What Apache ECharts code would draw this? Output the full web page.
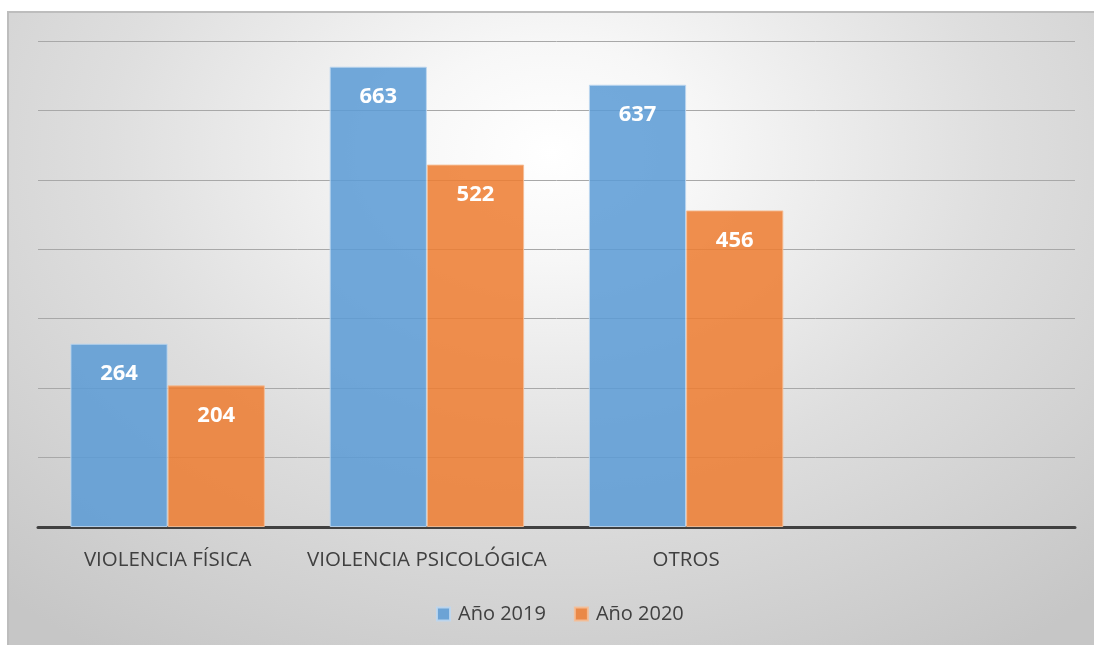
<!DOCTYPE html>
<html>
<head>
<meta charset="utf-8">
<script src="https://cdn.jsdelivr.net/npm/echarts@6/dist/echarts.min.js"></script>
<style>
  html, body { margin: 0; padding: 0; background: #fff; }
  #chart {
    position: absolute;
    left: 7px;
    top: 11px;
    width: 1087px;
    height: 634px;
    box-sizing: border-box;
    border-left: 2px solid #bdbdbd;
    border-top: 2px solid #bdbdbd;
    background: radial-gradient(ellipse 75% 95% at 50% 22%, #ffffff 0%, #f7f7f7 18%, #dedede 55%, #c6c6c6 100%);
  }
</style>
</head>
<body>
<div id="chart"></div>
<script>
// categorías y valores
const categories = ['VIOLENCIA FÍSICA', 'VIOLENCIA PSICOLÓGICA', 'OTROS', ''];
const serie2019 = [264, 663, 637, null];
const serie2020 = [204, 522, 456, null];
const seriesNames = ['Año 2019', 'Año 2020'];

const chart = echarts.init(document.getElementById('chart'));

const labelStyle = {
  show: true,
  position: 'insideTop',
  distance: 19,
  color: '#ffffff',
  fontFamily: 'Open Sans',
  fontWeight: 'bold',
  fontSize: 22,
};

const option = {
  backgroundColor: 'transparent',
  animation: false,
  grid: { left: 29, right: 19, top: 28, bottom: 118 },
  legend: {
    data: seriesNames,
    bottom: 16,
    left: 422,
    itemWidth: 13,
    itemHeight: 13,
    itemGap: 28,
    icon: 'rect',
    textStyle: { color: '#404040', fontFamily: 'Open Sans', fontSize: 20, padding: [0, 0, 0, 3] },
  },
  xAxis: {
    type: 'category',
    data: categories,
    axisLine: { lineStyle: { color: '#404040', width: 3 } },
    axisTick: { show: false },
    axisLabel: { interval: 0, color: '#404040', fontFamily: 'Open Sans', fontSize: 20.5, margin: 23 },
  },
  yAxis: {
    type: 'value',
    min: 0,
    max: 700,
    interval: 100,
    axisLabel: { show: false },
    axisLine: { show: false },
    axisTick: { show: false },
    splitLine: { lineStyle: { color: '#a8a8a8', width: 1 } },
  },
  series: [
    {
      name: seriesNames[0],
      type: 'bar',
      data: serie2019,
      barGap: '0%',
      barCategoryGap: '25%',
      itemStyle: { color: 'rgba(91,155,213,0.86)', borderColor: 'rgba(190,215,240,0.9)', borderWidth: 1 },
      label: labelStyle,
    },
    {
      name: seriesNames[1],
      type: 'bar',
      data: serie2020,
      itemStyle: { color: 'rgba(237,125,49,0.86)', borderColor: 'rgba(245,190,150,0.9)', borderWidth: 1 },
      label: labelStyle,
    },
  ],
};

chart.setOption(option);
</script>
</body>
</html>
